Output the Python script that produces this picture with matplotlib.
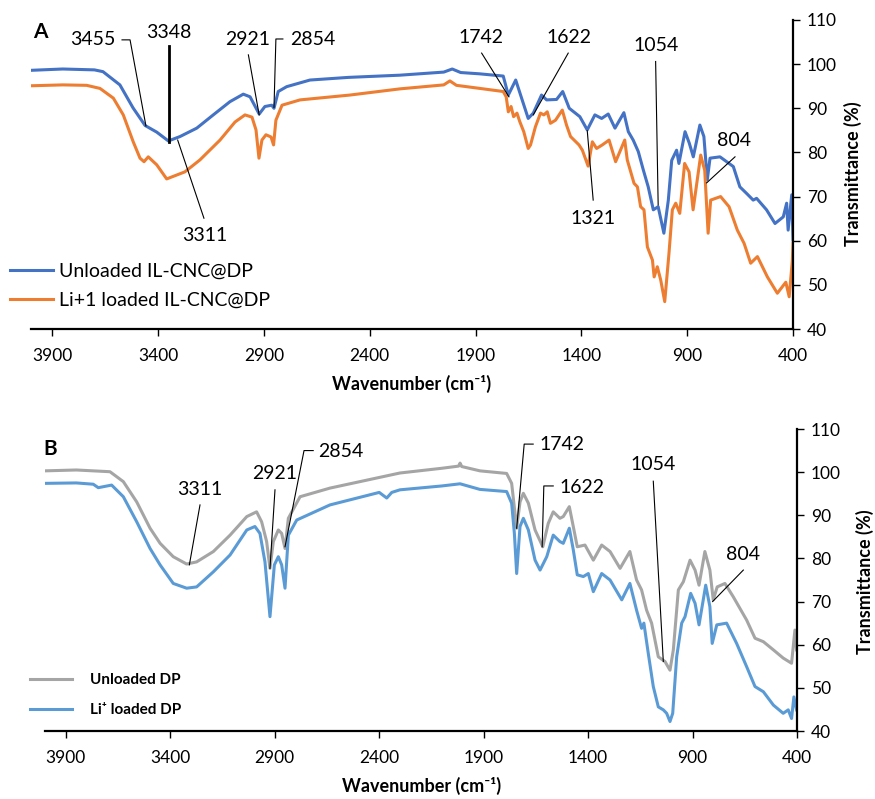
import matplotlib
matplotlib.use("Agg")
import matplotlib.pyplot as plt

# fonts
plt.rcParams['font.family'] = ['Lato', 'DejaVu Sans']

# panel A: IL-CNC@DP
a_wn_unloaded = [4000, 3850, 3700, 3660, 3580, 3518, 3461, 3406, 3351, 3296, 3217, 3139, 3060, 2997, 2965,
                 2922, 2895, 2863, 2852, 2832, 2792, 2682, 2500, 2257, 2050, 2010, 1970, 1879, 1769, 1745,
                 1710, 1651, 1627, 1588, 1564, 1517, 1488, 1457, 1407, 1372, 1336, 1304, 1273, 1241, 1199,
                 1178, 1155, 1131, 1107, 1084, 1060, 1037, 1010, 989, 973, 950, 939, 910, 890, 871, 840,
                 821, 805, 792, 745, 682, 651, 619, 588, 572, 525, 485, 446, 430, 423, 406, 400]
a_t_unloaded = [98.6, 98.9, 98.7, 98.3, 95.3, 90.1, 86.1, 84.6, 82.6, 83.6, 85.5, 88.5, 91.5, 93.2, 92.6,
                88.7, 90.4, 90.7, 90.0, 93.8, 94.9, 96.4, 97.0, 97.5, 98.2, 98.9, 98.1, 97.8, 97.3, 93.0,
                96.4, 87.7, 88.9, 93.0, 91.9, 92.0, 93.8, 90.0, 88.1, 85.1, 88.5, 87.7, 88.7, 85.5, 89.0,
                84.7, 82.8, 80.2, 76.0, 72.2, 67.0, 67.7, 61.7, 69.2, 78.2, 80.5, 77.5, 84.7, 82.1, 79.0, 86.2,
                83.6, 73.8, 78.7, 79.0, 76.8, 72.2, 70.7, 69.2, 69.6, 67.0, 63.9, 65.4, 68.5, 62.4, 70.4, 60.2]

a_wn_loaded = [4000, 3850, 3737, 3674, 3611, 3564, 3517, 3485, 3466, 3446, 3406, 3359, 3273, 3202, 3107,
               3036, 2989, 2956, 2937, 2923, 2909, 2890, 2866, 2854, 2843, 2814, 2729, 2493, 2257, 2050,
               2021, 1990, 1879, 1769, 1755, 1745, 1732, 1720, 1704, 1691, 1672, 1651, 1640, 1617, 1593,
               1577, 1561, 1546, 1522, 1490, 1470, 1451, 1411, 1395, 1368, 1348, 1328, 1301, 1269, 1238,
               1195, 1183, 1151, 1135, 1120, 1104, 1088, 1064, 1056, 1041, 1025, 1006, 986, 970, 954, 935,
               912, 891, 872, 836, 817, 801, 789, 742, 702, 663, 631, 600, 568, 521, 474, 434, 418, 403, 400]
a_t_loaded = [95.1, 95.3, 95.2, 94.5, 92.3, 88.5, 82.4, 78.7, 77.9, 79.0, 77.2, 74.0, 75.6, 78.3, 82.8,
              86.9, 88.5, 88.0, 85.1, 78.7, 82.8, 84.0, 83.5, 81.7, 87.3, 90.7, 91.9, 93.0, 94.4, 95.3,
              96.2, 95.2, 94.5, 93.8, 92.6, 89.2, 90.4, 88.1, 88.9, 87.0, 84.7, 80.9, 81.7, 85.8, 88.9,
              88.5, 89.2, 86.6, 87.3, 89.6, 86.2, 83.6, 81.7, 80.5, 76.9, 82.4, 80.9, 81.7, 82.8, 77.9,
              82.8, 78.3, 73.0, 72.2, 67.7, 67.0, 58.6, 55.6, 51.8, 54.1, 51.1, 46.2, 57.1, 67.0, 68.5, 66.2,
              77.5, 75.6, 67.0, 79.4, 75.9, 61.7, 69.2, 70.0, 67.7, 62.4, 59.4, 54.9, 56.4, 51.8, 48.1, 50.6, 47.3, 55.6, 59.4]

# panel B: DP
b_wn_unloaded = [4000, 3850, 3689, 3625, 3561, 3497, 3449, 3386, 3322, 3274, 3194, 3114, 3034, 2987, 2963,
                 2939, 2923, 2907, 2883, 2867, 2851, 2835, 2779, 2636, 2301, 2100, 2020, 2013, 2005, 1918,
                 1790, 1766, 1742, 1726, 1710, 1686, 1654, 1617, 1591, 1567, 1535, 1519, 1490, 1471, 1452,
                 1415, 1375, 1335, 1295, 1247, 1200, 1168, 1144, 1120, 1096, 1064, 1032, 1008, 992, 968, 944,
                 912, 888, 869, 841, 817, 801, 782, 745, 705, 641, 601, 561, 513, 466, 426, 410, 402]
b_t_unloaded = [100.3, 100.5, 100.1, 97.8, 93.1, 87.0, 83.5, 80.4, 78.7, 79.2, 81.6, 85.4, 89.7, 90.8, 88.5,
                83.9, 77.7, 83.9, 86.6, 85.8, 82.3, 89.3, 94.3, 96.3, 99.8, 100.9, 101.4, 102.1, 101.3, 100.3,
                99.7, 97.4, 87.0, 93.1, 95.1, 92.8, 86.6, 82.7, 88.1, 90.8, 89.3, 89.7, 92.0, 87.4, 82.7,
                83.1, 79.6, 83.1, 81.6, 77.7, 81.6, 75.0, 72.7, 68.0, 65.0, 57.2, 56.1, 54.1, 58.8, 72.7, 74.6,
                79.6, 77.3, 73.8, 81.6, 77.3, 70.4, 73.4, 74.2, 71.1, 65.7, 61.5, 60.7, 58.8, 56.9, 55.7, 63.4, 58.8]

b_wn_loaded = [4000, 3850, 3769, 3745, 3681, 3625, 3561, 3497, 3449, 3386, 3322, 3274, 3194, 3114, 3034,
               2995, 2971, 2947, 2923, 2902, 2883, 2867, 2851, 2835, 2795, 2636, 2400, 2364, 2340, 2301,
               2100, 2013, 1918, 1790, 1766, 1753, 1742, 1726, 1710, 1686, 1654, 1630, 1598, 1567, 1535,
               1519, 1490, 1471, 1452, 1423, 1399, 1375, 1335, 1295, 1239, 1200, 1168, 1144, 1133, 1112,
               1088, 1064, 1040, 1024, 1008, 995, 976, 952, 936, 909, 888, 869, 837, 817, 806, 784, 737,
               689, 641, 601, 561, 513, 466, 442, 426, 415, 402]
b_t_loaded = [97.4, 97.5, 97.2, 96.4, 97.0, 94.3, 88.5, 82.3, 78.5, 74.2, 73.1, 73.4, 76.9, 80.8, 86.6,
              87.4, 85.8, 79.2, 66.5, 78.5, 80.4, 78.5, 73.1, 85.4, 88.9, 92.4, 95.3, 94.0, 95.3, 95.9,
              96.8, 97.3, 96.0, 95.5, 92.8, 85.8, 76.5, 87.4, 89.3, 86.6, 79.6, 77.3, 80.4, 85.4, 83.9,
              83.5, 87.0, 82.0, 76.2, 75.8, 76.5, 72.3, 76.5, 75.0, 70.4, 74.2, 68.0, 63.8, 65.0, 58.0,
              50.3, 45.6, 44.9, 44.1, 42.2, 44.1, 57.2, 65.0, 66.5, 71.9, 69.6, 64.6, 73.8, 68.8, 60.3, 64.6, 65.0,
              60.3, 54.9, 50.3, 49.1, 46.0, 44.1, 44.9, 42.9, 47.9, 44.9]

x_ticks = [3900, 3400, 2900, 2400, 1900, 1400, 900, 400]
y_ticks = [40, 50, 60, 70, 80, 90, 100, 110]

# peak labels: (text, text_x, text_y, leader path)
a_peaks = [
    ("3455", 3707, 105.5, [(3570, 105.5), (3532, 105.5), (3457, 86.0)]),
    ("3311", 3181, 61.1, [(3183, 65.1), (3307, 82.8)]),
    ("2921", 2975, 105.5, [(2973, 102.1), (2922, 88.5)]),
    ("2854", 2671, 105.5, [(2810, 105.7), (2843, 105.7), (2852, 90.2)]),
    ("1742", 1874, 106.1, [(1871, 102.5), (1742, 92.6)]),
    ("1622", 1458, 106.1, [(1462, 102.5), (1627, 88.5)]),
    ("1054", 1049, 104.2, [(1049, 100.6), (1037, 68.1)]),
    ("1321", 1344, 65.1, [(1344, 69.2), (1372, 84.9)]),
    ("804", 679, 82.6, [(674, 79.0), (808, 73.1)]),
]
b_peaks = [
    ("3311", 3258, 96.0, [(3258, 92.4), (3309, 78.5)]),
    ("2921", 2899, 99.6, [(2899, 95.9), (2923, 77.7)]),
    ("2854", 2585, 104.7, [(2716, 105.0), (2760, 105.0), (2851, 82.7)]),
    ("1742", 1527, 106.3, [(1663, 106.5), (1706, 106.5), (1742, 87.0)]),
    ("1622", 1431, 96.5, [(1567, 96.8), (1612, 96.8), (1620, 82.7)]),
    ("1054", 1088, 101.8, [(1088, 97.9), (1040, 56.1)]),
    ("804", 657, 81.0, [(657, 77.3), (804, 70.0)]),
]

W, H = 875, 799
fig = plt.figure(figsize=(W / 100, H / 100), dpi=100)


def setup(ax):
    ax.set_xlim(4000, 400)
    ax.set_ylim(40, 110)
    ax.set_xticks(x_ticks)
    ax.set_yticks(y_ticks)
    for s in ("left", "top"):
        ax.spines[s].set_visible(False)
    for s in ("bottom", "right"):
        ax.spines[s].set_linewidth(1.6)
    ax.yaxis.tick_right()
    ax.tick_params(axis="x", direction="out", length=5, width=1, pad=9, labelsize=12.5)
    ax.tick_params(axis="y", direction="out", length=5, width=1, pad=5, labelsize=12.5)
    ax.set_xlabel("Wavenumber (cm⁻¹)", fontsize=13, fontweight="bold")
    ax.set_ylabel("Transmittance (%)", fontsize=13, fontweight="bold")
    ax.yaxis.set_label_position("right")


def peaks(ax, items):
    for txt, tx, ty, path in items:
        xs = [p[0] for p in path]
        ys = [p[1] for p in path]
        ax.plot(xs, ys, color="black", lw=0.8, clip_on=False)
        ax.text(tx, ty, txt, ha="center", va="center", fontsize=14, clip_on=False)


# ---- panel A
axA = fig.add_axes([31 / W, 1 - 329 / H, (793 - 31) / W, (329 - 20) / H])
setup(axA)
axA.plot(a_wn_unloaded, a_t_unloaded, color="#4472C4", lw=2.2, label="Unloaded IL-CNC@DP")
axA.plot(a_wn_loaded, a_t_loaded, color="#ED7D31", lw=2.2, label="Li+1 loaded IL-CNC@DP")
peaks(axA, a_peaks)
axA.plot([3348, 3348], [104.0, 82.4], color="black", lw=2.0, clip_on=False)
axA.text(3348, 107.1, "3348", ha="center", va="center", fontsize=14, clip_on=False)
axA.xaxis.set_label_coords(0.5, -0.148)
axA.yaxis.set_label_coords(1.067, 0.502)
axA.legend(loc="center left", bbox_to_anchor=(10 / W, 1 - 286 / H), bbox_transform=fig.transFigure,
           frameon=False, fontsize=14, handlelength=2.2, handletextpad=0.3, labelspacing=0.62,
           borderpad=0, borderaxespad=0)
fig.text(40 / W, 1 - 32 / H, "A", ha="center", va="center", fontsize=15, fontweight="bold")

# ---- panel B
axB = fig.add_axes([45 / W, 1 - 731 / H, (797 - 45) / W, (731 - 429) / H])
setup(axB)
axB.plot(b_wn_unloaded, b_t_unloaded, color="#A5A5A5", lw=2.2, label="Unloaded DP")
axB.plot(b_wn_loaded, b_t_loaded, color="#5B9BD5", lw=2.2, label="Li⁺ loaded DP")
peaks(axB, b_peaks)
axB.xaxis.set_label_coords(0.501, -0.152)
axB.yaxis.set_label_coords(1.078, 0.493)
axB.legend(loc="center left", bbox_to_anchor=(30 / W, 1 - 695 / H), bbox_transform=fig.transFigure,
           frameon=False, prop={"size": 11, "weight": "bold"}, handlelength=2.75, handletextpad=1.15,
           labelspacing=1.05, borderpad=0, borderaxespad=0)
fig.text(50 / W, 1 - 449 / H, "B", ha="center", va="center", fontsize=15, fontweight="bold")

fig.savefig("out.png", dpi=100)
